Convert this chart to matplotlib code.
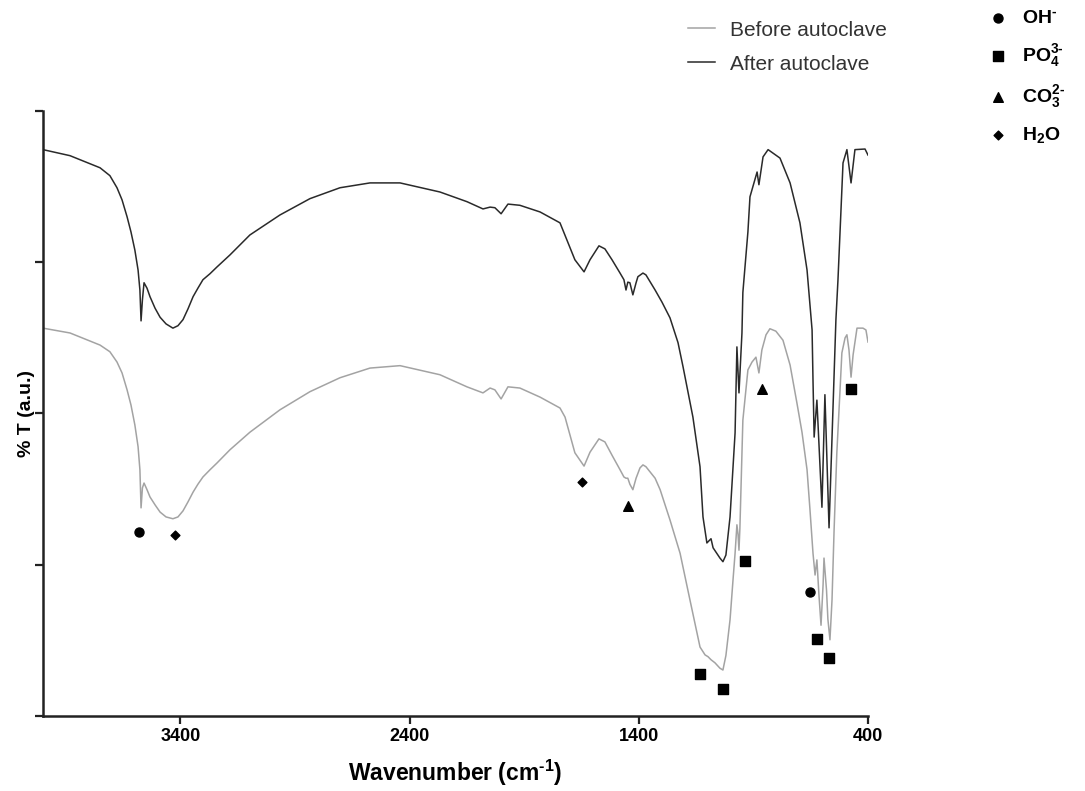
import numpy as np
import matplotlib
matplotlib.use('Agg')
import matplotlib.pyplot as plt

plt.rcParams['font.family'] = ['Liberation Sans', 'DejaVu Sans']
plt.rcParams['mathtext.fontset'] = 'custom'
plt.rcParams['mathtext.rm'] = 'Liberation Sans:bold'
plt.rcParams['mathtext.it'] = 'Liberation Sans:bold'
plt.rcParams['mathtext.bf'] = 'Liberation Sans:bold'

# spectrum after autoclave (wavenumber cm-1, %T a.u.)
wn_after = [4000, 3882, 3751, 3708, 3677, 3655, 3633, 3616, 3599, 3585, 3577, 3572, 3566, 3559,
            3546, 3533, 3511, 3489, 3463, 3433, 3411, 3389, 3367, 3345, 3324, 3302, 3271, 3241,
            3184, 3097, 2966, 2835, 2704, 2573, 2442, 2268, 2150, 2080, 2049, 2028, 2001, 1971,
            1919, 1831, 1744, 1679, 1639, 1613, 1574, 1548, 1517, 1482, 1465, 1456, 1448, 1439,
            1426, 1412, 1404, 1382, 1369, 1329, 1299, 1264, 1229, 1207, 1164, 1133, 1120, 1103,
            1085, 1076, 1046, 1033, 1020, 1002, 980, 972, 963, 950, 946, 924, 915, 884, 876,
            858, 836, 784, 740, 697, 666, 644, 640, 635, 623, 601, 588, 570, 540, 531, 509,
            492, 474, 457, 413, 400]
t_after = [93.6, 92.6, 90.6, 89.3, 87.3, 85.3, 82.5, 80.0, 77.0, 73.7, 70.4, 65.3, 68.8, 71.6,
           70.7, 69.3, 67.4, 65.9, 64.8, 64.1, 64.5, 65.5, 67.3, 69.3, 70.7, 72.1, 73.1, 74.2,
           76.2, 79.5, 82.8, 85.5, 87.3, 88.1, 88.1, 86.6, 85.0, 83.8, 84.1, 84.0, 83.0, 84.6,
           84.4, 83.3, 81.5, 75.4, 73.4, 75.4, 77.7, 77.2, 75.4, 73.2, 72.1, 70.4, 71.7, 71.6,
           69.6, 71.6, 72.6, 73.2, 72.9, 70.4, 68.4, 65.8, 61.7, 57.7, 49.4, 41.2, 32.9, 28.6,
           29.3, 27.8, 26.1, 25.5, 26.6, 32.9, 46.8, 61.0, 53.4, 63.3, 70.0, 80.0, 85.8, 89.9,
           87.8, 92.4, 93.6, 92.2, 88.1, 81.5, 73.7, 63.8, 55.5, 46.1, 52.2, 34.5, 53.1, 31.1,
           65.5, 72.1, 91.4, 93.6, 88.1, 93.6, 93.7, 92.7]

# spectrum before autoclave
wn_before = [4000, 3882, 3751, 3708, 3677, 3655, 3633, 3616, 3599, 3585, 3577, 3572, 3566, 3559,
             3546, 3533, 3511, 3489, 3463, 3433, 3411, 3389, 3367, 3345, 3324, 3302, 3271, 3241,
             3184, 3097, 2966, 2835, 2704, 2573, 2442, 2268, 2150, 2080, 2049, 2028, 2001, 1971,
             1919, 1831, 1744, 1722, 1679, 1639, 1613, 1574, 1548, 1517, 1482, 1465, 1456, 1448,
             1439, 1426, 1412, 1395, 1382, 1369, 1329, 1307, 1264, 1220, 1177, 1133, 1111, 1098,
             1085, 1068, 1046, 1033, 1020, 1002, 989, 980, 972, 967, 963, 959, 946, 924, 906,
             889, 876, 863, 845, 828, 802, 771, 740, 710, 688, 666, 653, 640, 631, 623, 614,
             605, 596, 592, 581, 575, 566, 557, 548, 536, 522, 514, 500, 492, 483, 474, 465,
             448, 422, 409, 400]
t_before = [64.1, 63.3, 61.3, 60.2, 58.5, 56.7, 53.9, 51.4, 48.1, 44.5, 40.7, 34.4, 37.7, 38.5,
            37.4, 36.2, 34.9, 33.7, 32.9, 32.6, 32.9, 33.9, 35.4, 37.0, 38.3, 39.5, 40.7, 41.8,
            44.0, 46.9, 50.6, 53.6, 55.9, 57.5, 57.9, 56.4, 54.4, 53.4, 54.2, 53.9, 52.4, 54.4,
            54.2, 52.7, 50.9, 49.4, 43.5, 41.3, 43.6, 45.8, 45.3, 43.1, 40.7, 39.5, 39.3, 39.3,
            38.3, 37.4, 39.3, 41.0, 41.5, 41.2, 39.3, 37.4, 32.4, 26.9, 19.2, 11.4, 10.1, 9.8,
            9.3, 8.8, 7.9, 7.6, 10.0, 15.9, 22.5, 26.9, 31.6, 30.0, 27.4, 31.0, 48.9, 57.2, 58.5,
            59.3, 56.7, 60.5, 63.0, 64.0, 63.6, 62.1, 58.0, 51.7, 46.9, 40.7, 34.0, 26.9, 23.3,
            25.8, 20.0, 15.0, 21.7, 26.1, 20.8, 16.0, 12.6, 19.2, 30.7, 43.5, 53.9, 60.0, 62.5,
            63.0, 60.5, 56.0, 59.7, 64.1, 64.1, 63.8, 61.8]

# band assignments
oh_wn = [3581, 653]
oh_t = [30.4, 20.5]
po4_wn = [1133, 1033, 937, 623, 570, 474]
po4_t = [6.9, 4.5, 25.6, 12.7, 9.6, 54.0]
co3_wn = [1448, 863]
co3_t = [34.7, 54.0]
h2o_wn = [3424, 1648]
h2o_t = [29.9, 38.7]

fig = plt.figure(figsize=(10.85, 7.91), dpi=100)
ax = fig.add_axes([0.0396, 0.0948, 0.7604, 0.765])

l1, = ax.plot(wn_before, t_before, color='#a3a3a3', lw=1.1, label='Before autoclave')
l2, = ax.plot(wn_after, t_after, color='#2a2a2a', lw=1.1, label='After autoclave')

s1 = ax.scatter(oh_wn, oh_t, marker='o', s=42, color='black', zorder=5,
                label=r'OH$^{\text{-}}$')
s2 = ax.scatter(po4_wn, po4_t, marker='s', s=42, color='black', zorder=5,
                label=r'PO$_4^{\text{3-}}$')
s3 = ax.scatter(co3_wn, co3_t, marker='^', s=48, color='black', zorder=5,
                label=r'CO$_3^{\text{2-}}$')
s4 = ax.scatter(h2o_wn, h2o_t, marker='D', s=20, color='black', zorder=5,
                label='H$_2$O')

ax.set_xlim(4000, 400)
ax.set_ylim(0, 100)
ax.set_xticks([3400, 2400, 1400, 400])
ax.set_yticks([0, 25, 50, 75, 100])
ax.set_yticklabels([])
for s in ['top', 'right']:
    ax.spines[s].set_visible(False)
for s in ['left', 'bottom']:
    ax.spines[s].set_linewidth(1.8)
    ax.spines[s].set_color('#222222')
ax.tick_params(axis='both', direction='out', length=5.5, width=1.6, color='#222222')
ax.tick_params(axis='x', labelsize=13, pad=3)
for lab in ax.get_xticklabels():
    lab.set_fontweight('bold')

ax.set_xlabel('Wavenumber (cm$^{\\text{-1}}$)', fontsize=16.5, fontweight='bold', labelpad=9)
ax.set_ylabel('% T (a.u.)', fontsize=14, fontweight='bold', labelpad=-3)

leg1 = fig.legend(handles=[l1, l2], loc='upper left', bbox_to_anchor=(0.634, 0.974),
                  frameon=False, fontsize=15, handlelength=1.3, handletextpad=0.72,
                  labelspacing=0.72, borderpad=0, borderaxespad=0)
for t in leg1.get_texts():
    t.set_color('#333333')

leg2 = fig.legend(handles=[s1, s2, s3, s4], loc='upper left', bbox_to_anchor=(0.913, 0.988),
                  frameon=False, handlelength=0.8, handletextpad=0.8,
                  labelspacing=0.75, borderpad=0, borderaxespad=0, scatterpoints=1,
                  prop={'weight': 'bold', 'size': 14})

fig.savefig('out.png', dpi=100)
